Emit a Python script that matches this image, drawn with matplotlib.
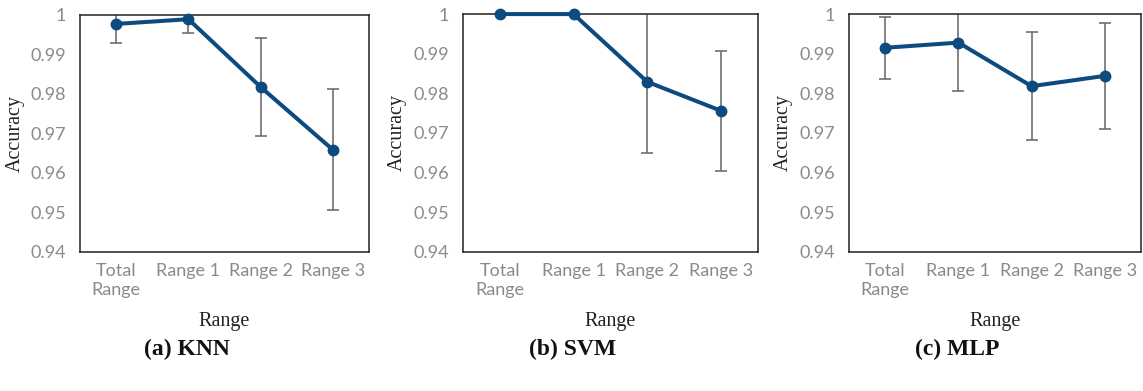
import matplotlib
matplotlib.use("Agg")
import matplotlib.pyplot as plt

categories = ["Total\nRange", "Range 1", "Range 2", "Range 3"]
y_ticks = [0.94, 0.95, 0.96, 0.97, 0.98, 0.99, 1.0]
y_tick_labels = ["0.94", "0.95", "0.96", "0.97", "0.98", "0.99", "1"]

knn_acc = [0.9977, 0.9989, 0.9817, 0.9658]
knn_err = [0.0047, 0.0035, 0.0125, 0.0153]
svm_acc = [1.0, 1.0, 0.9829, 0.9756]
svm_err = [0.0, 0.0, 0.0180, 0.0152]
mlp_acc = [0.9915, 0.9928, 0.9818, 0.9844]
mlp_err = [0.0078, 0.0122, 0.0136, 0.0134]

captions = ["(a) KNN", "(b) SVM", "(c) MLP"]

LINE = "#0d4a7f"
GREY = "#8a8a8a"
TICK_FONT = "Lato"
SERIF = "Liberation Serif"

fig = plt.figure(figsize=(11.43, 3.91), dpi=100)

# axes boxes in figure fractions (left, bottom, width, height)
boxes = [
    (0.070, 0.356, 0.253, 0.606),
    (0.405, 0.356, 0.258, 0.608),
    (0.7425, 0.356, 0.256, 0.608),
]

for box, acc, err, cap in zip(boxes, [knn_acc, svm_acc, mlp_acc],
                              [knn_err, svm_err, mlp_err], captions):
    ax = fig.add_axes(box)
    x = list(range(len(categories)))
    ax.errorbar(x, acc, yerr=err, fmt="none", ecolor="#707070", elinewidth=1.2,
                capsize=4, capthick=1.2, zorder=2)
    ax.plot(x, acc, color=LINE, lw=2.9, marker="o", ms=7.5, clip_on=False, zorder=3)
    ax.set_xlim(-0.5, 3.5)
    ax.set_ylim(0.94, 1.0)
    ax.set_yticks(y_ticks)
    ax.set_yticklabels(y_tick_labels, family=TICK_FONT, fontsize=13, color=GREY)
    ax.set_xticks(x)
    ax.set_xticklabels(categories, family=TICK_FONT, fontsize=13, color=GREY,
                       linespacing=1.25)
    ax.tick_params(axis="both", length=0)
    ax.tick_params(axis="y", pad=10)
    ax.tick_params(axis="x", pad=8)
    for s in ax.spines.values():
        s.set_color("#222222")
        s.set_linewidth(1.1)
    ax.set_ylabel("Accuracy", family=SERIF, fontsize=14.5, color="#222222")
    ax.yaxis.set_label_coords(-0.19, 0.5)
    ax.set_xlabel("Range", family=SERIF, fontsize=14.5, color="#222222")
    ax.xaxis.set_label_coords(0.5, -0.255)
    cx = box[0] + box[2] / 2 - 0.033
    fig.text(cx, 0.105, cap, family=SERIF, fontsize=17, fontweight="bold",
             ha="center", va="center", color="#111111")

fig.savefig("out.png", dpi=100)
